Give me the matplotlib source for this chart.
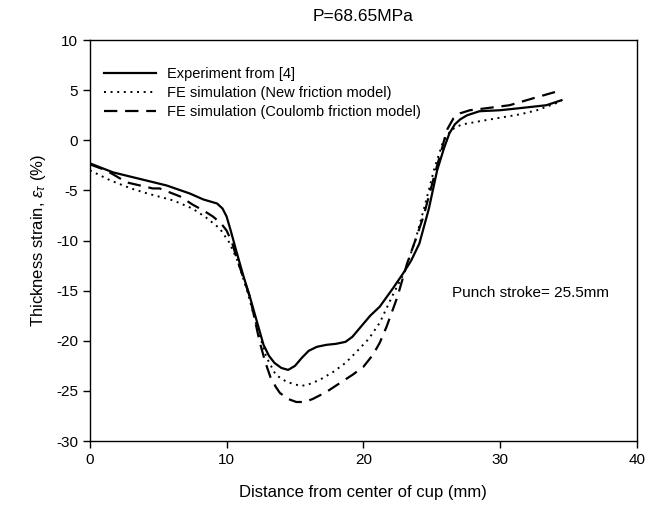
import matplotlib
matplotlib.use('Agg')
import matplotlib.pyplot as plt

plt.rcParams['font.family'] = ['Liberation Sans', 'DejaVu Sans']
plt.rcParams['mathtext.fontset'] = 'custom'
plt.rcParams['mathtext.rm'] = 'Liberation Sans'
plt.rcParams['mathtext.it'] = 'Liberation Sans:italic'
plt.rcParams['axes.unicode_minus'] = False

# Experiment from [4]
exp_x = [0, 1.7, 3.5, 5.6, 7.3, 8.3, 8.8, 9.3, 9.7, 10.0, 10.3, 10.7, 11.2, 11.7, 12.2, 12.7, 13.1,
         13.5, 14.0, 14.5, 15.0, 15.5, 16.0, 16.6, 17.3, 18.0, 18.7, 19.2, 20.5, 21.2, 22.2, 22.9,
         23.5, 24.1, 24.8, 25.4, 25.9, 26.3, 26.7, 27.1, 27.6, 28.5, 30.0, 31.4, 33.4, 34.5]
exp_y = [-2.3, -3.2, -3.8, -4.5, -5.3, -5.9, -6.1, -6.3, -6.8, -7.6, -9.0, -11.0, -13.4, -15.6,
         -18.0, -20.4, -21.5, -22.2, -22.7, -22.9, -22.5, -21.7, -21.0, -20.6, -20.4, -20.3, -20.1,
         -19.6, -17.5, -16.6, -14.7, -13.3, -12.0, -10.3, -6.8, -3.0, -0.8, 0.7, 1.6, 2.1, 2.5, 2.9,
         3.0, 3.2, 3.5, 4.0]

# FE simulation (New friction model)
new_x = [0, 1.5, 3.0, 4.2, 6.1, 7.5, 8.5, 9.5, 10.2, 10.8, 11.5, 12.2, 12.9, 13.6, 14.4, 15.4, 15.9,
         16.8, 17.8, 18.7, 19.5, 20.4, 21.2, 22.2, 23.0, 23.8, 24.5, 25.2, 25.8, 26.4, 26.9, 27.3,
         28.5, 30.2, 31.5, 32.7, 34.5]
new_y = [-3.0, -4.0, -4.8, -5.3, -6.0, -6.8, -7.7, -8.8, -10.2, -12.0, -15.0, -18.5, -21.6, -23.4,
         -24.1, -24.5, -24.4, -23.9, -23.1, -22.2, -21.1, -19.8, -18.2, -15.3, -13.2, -10.0, -6.5,
         -2.8, -0.3, 1.0, 1.4, 1.6, 1.9, 2.3, 2.6, 3.0, 3.9]

# FE simulation (Coulomb friction model)
cou_x = [0, 1.2, 2.7, 4.6, 5.1, 6.6, 7.5, 8.3, 9.0, 9.6, 10.0, 10.4, 10.7, 11.2, 11.7, 12.4, 12.8,
         13.2, 13.6, 13.9, 14.5, 15.1, 15.7, 16.3, 17.3, 18.3, 19.2, 20.0, 20.7, 21.2, 21.7, 22.5,
         23.2, 23.8, 24.4, 25.3, 25.8, 26.1, 26.6, 27.1, 27.8, 29.0, 30.7, 32.7, 34.5]
cou_y = [-2.4, -3.0, -4.2, -4.8, -4.8, -5.6, -6.4, -7.0, -7.6, -8.3, -9.0, -10.2, -11.6, -13.6,
         -15.6, -20.0, -22.0, -23.6, -24.6, -25.2, -25.8, -26.1, -26.1, -25.8, -25.1, -24.2, -23.4,
         -22.6, -21.4, -20.2, -18.6, -15.6, -12.3, -10.0, -7.6, -3.0, -0.6, 1.0, 2.2, 2.7, 3.0,
         3.2, 3.5, 4.3, 5.0]

fig = plt.figure(figsize=(6.66, 5.07), dpi=100)
ax = fig.add_axes([0.135, 0.130, 0.821, 0.791])

ax.plot(exp_x, exp_y, color='black', lw=1.6, ls='-', label='Experiment from [4]')
ax.plot(new_x, new_y, color='black', lw=1.4, ls=(0, (1, 2.4)), label='FE simulation (New friction model)')
ax.plot(cou_x, cou_y, color='black', lw=1.6, ls=(0, (6, 3.5)), label='FE simulation (Coulomb friction model)')

ax.set_xlim(0, 40)
ax.set_ylim(-30, 10)
ax.set_xticks([0, 10, 20, 30, 40])
ax.set_yticks(range(-30, 11, 5))
ax.tick_params(direction='out', length=5, width=1, labelsize=11, top=False, right=False)
for s in ax.spines.values():
    s.set_linewidth(1.0)

ax.set_xlabel('Distance from center of cup (mm)', fontsize=12, labelpad=13)
ax.set_ylabel(r'Thickness strain, $\varepsilon_\tau$ (%)', fontsize=12, labelpad=6)
ax.set_title('P=68.65MPa', fontsize=12.5, pad=14)

ax.text(26.5, -15.2, 'Punch stroke= 25.5mm', fontsize=11, va='center', ha='left')

ax.legend(loc='upper left', frameon=False, fontsize=10.5, handlelength=3.5,
          handletextpad=0.8, labelspacing=0.36, borderaxespad=0.6, bbox_to_anchor=(0.0, 0.97))

fig.savefig('out.png', dpi=100)
